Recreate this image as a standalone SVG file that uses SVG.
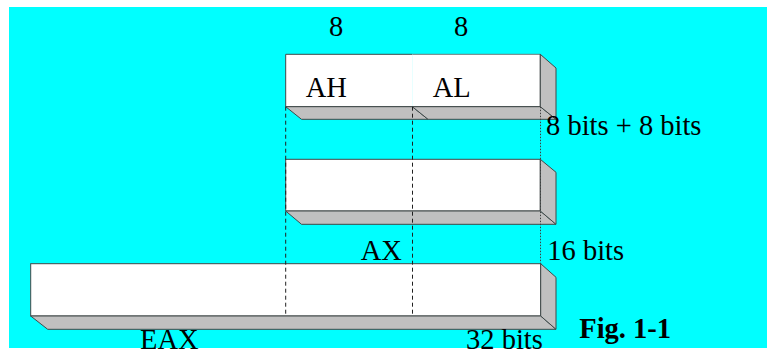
<svg xmlns="http://www.w3.org/2000/svg" width="767" height="355" viewBox="0 0 767 355">
<style>
.front{fill:#FFFFFF;stroke:#404848;stroke-width:1}
.shade{fill:#C0C0C0;stroke:#404848;stroke-width:1;stroke-linejoin:round}
.dash{stroke:#202020;stroke-width:1;stroke-dasharray:4,3;fill:none}
.dot{stroke:#404040;stroke-width:1;stroke-dasharray:1.5,1.5;fill:none}
.bold{font-weight:bold}
</style>
<rect x="0" y="0" width="767" height="355" fill="#FFFFFF"/>
<rect x="9" y="7" width="758" height="341" fill="#00FFFF"/>

<g font-family="'Liberation Serif', 'Times New Roman', serif" font-size="28.5" fill="#000000">
<g id="AH">
<rect x="285.7" y="54.3" width="127" height="52.4" fill="#FFFFFF"/>
<path d="M412.3,54.3 H285.7 V106.7 H412.3" fill="none" stroke="#404848"/>
<polygon class="shade" points="285.7,106.7 412.3,106.7 428,119.3 301.5,119.3"/>
<text x="305.7" y="96.7">AH</text>
</g>
<g id="AL">
<rect x="412.3" y="54.3" width="128" height="52.4" fill="#FFFFFF"/>
<line x1="412.3" y1="54.3" x2="540.3" y2="54.3" stroke="#707878"/>
<path d="M540.3,54.3 V106.7 H412.3" fill="none" stroke="#404848"/>
<polygon class="shade" points="412.3,106.7 540.3,106.7 556,119.3 428,119.3"/>
<polygon class="shade" points="540.3,54.3 556,68 556,119.3 540.3,106.7"/>
<text x="432.7" y="96.7">AL</text>
</g>

<g id="AX">
<rect class="front" x="285.7" y="159.3" width="254.6" height="51.7"/>
<polygon class="shade" points="285.7,211 540.3,211 556,224.3 301.5,224.3"/>
<polygon class="shade" points="540.3,159.3 556,172.3 556,224.3 540.3,211"/>
</g>

<g id="EAX">
<rect class="front" x="30.7" y="263.7" width="510" height="52.3"/>
<polygon class="shade" points="30.7,316 540.7,316 556,329.3 47.7,329.3"/>
<polygon class="shade" points="540.7,263.7 556,277.3 556,329.3 540.7,316"/>
</g>

<g id="connectors">
<line class="dash" x1="285.7" y1="106.7" x2="285.7" y2="316"/>
<line class="dash" x1="412.5" y1="106.7" x2="412.5" y2="316"/>
<line class="dot" x1="540.5" y1="106.7" x2="540.5" y2="263.7"/>
</g>

<g id="labels">
<text x="329" y="35.7">8</text>
<text x="454" y="35.7">8</text>
<text x="546" y="135">8 bits + 8 bits</text>
<text x="360.7" y="260">AX</text>
<text x="547.3" y="260">16 bits</text>
<text x="140" y="348.5">EAX</text>
<text x="466" y="348.5">32 bits</text>
<text class="bold" x="579.3" y="338.3">Fig. 1-1</text>
</g>
</g>
</svg>
